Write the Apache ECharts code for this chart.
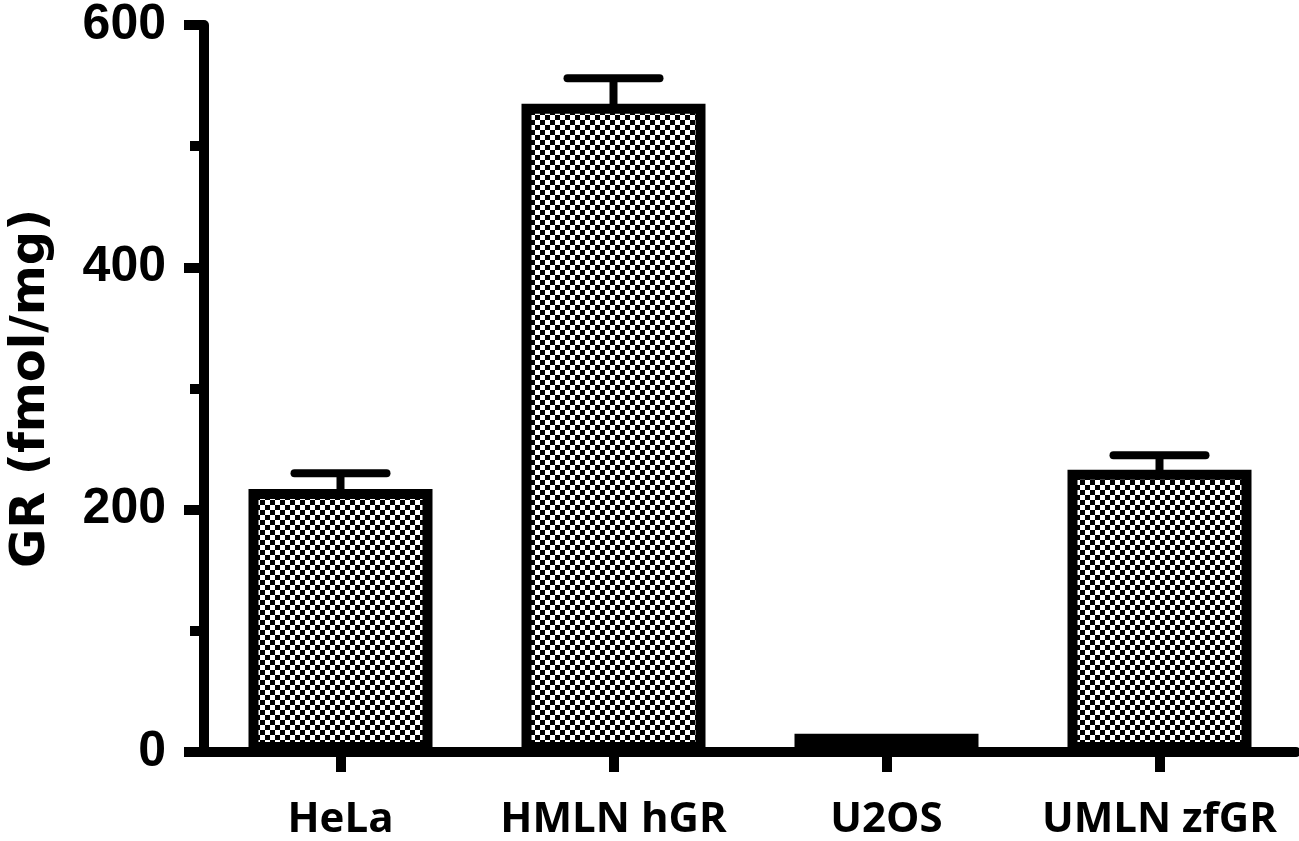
<!DOCTYPE html>
<html>
<head>
<meta charset="utf-8">
<script src="https://cdn.jsdelivr.net/npm/echarts@6/dist/echarts.min.js"></script>
<style>
html,body{margin:0;padding:0;background:#fff;}
#chart{width:1299px;height:841px;}
</style>
</head>
<body>
<div id="chart"></div>
<script>
const categories = ['HeLa', 'HMLN hGR', 'U2OS', 'UMLN zfGR'];
const values = [217, 535, 15, 233];
const errorTops = [230, 556, 15, 245];
const yTicks = [0, 200, 400, 600];

// checkerboard pattern
const pat = document.createElement('canvas');
pat.width = 10; pat.height = 10;
const pc = pat.getContext('2d');
pc.fillStyle = '#fff'; pc.fillRect(0, 0, 10, 10);
pc.fillStyle = '#000';
pc.fillRect(0, 0, 5, 5); pc.fillRect(5, 5, 5, 5);

const chart = echarts.init(document.getElementById('chart'), null, {renderer: 'canvas'});
chart.setOption({
  backgroundColor: '#fff',
  animation: false,
  grid: {left: 203, right: 3, top: 22, bottom: 89, containLabel: false},
  xAxis: {
    type: 'category',
    data: categories,
    axisLine: {lineStyle: {color: '#000', width: 10}},
    axisTick: {show: true, length: 20, lineStyle: {color: '#000', width: 10}, alignWithLabel: true},
    axisLabel: {color: '#000', fontFamily: 'Open Sans', fontWeight: 'bold', fontSize: 42, margin: 47,
      interval: 0, hideOverlap: false}
  },
  yAxis: {
    type: 'value',
    min: 0, max: 600, interval: 200,
    name: 'GR (fmol/mg)',
    nameLocation: 'middle',
    nameGap: 148,
    nameTextStyle: {color: '#000', fontFamily: 'DejaVu Sans', fontWeight: 'bold', fontSize: 48},
    axisLine: {show: true, lineStyle: {color: '#000', width: 10}},
    axisTick: {show: true, length: 20, lineStyle: {color: '#000', width: 10}},
    minorTick: {show: true, splitNumber: 2, length: 14, lineStyle: {color: '#000', width: 10}},
    splitLine: {show: false},
    axisLabel: {color: '#000', fontFamily: 'Liberation Sans', fontWeight: 'bold', fontSize: 50, margin: 38,
      formatter: function (v) { return yTicks.indexOf(v) >= 0 ? String(v) : ''; }}
  },
  series: [
    {
      type: 'bar',
      data: values,
      barWidth: 184,
      itemStyle: {color: {image: pat, repeat: 'repeat'}, borderColor: '#000', borderWidth: 10},
      z: 2
    },
    {
      type: 'custom',
      data: categories.map((c, i) => [i, values[i], errorTops[i]]),
      z: 3,
      renderItem: function (params, api) {
        const i = api.value(0);
        const base = api.coord([i, api.value(1)]);
        const top = api.coord([i, api.value(2)]);
        if (api.value(2) <= api.value(1)) return {type: 'group', children: []};
        const half = 46;
        const style = {stroke: '#000', lineWidth: 8, lineCap: 'round'};
        return {
          type: 'group',
          children: [
            {type: 'line', shape: {x1: base[0], y1: base[1] + 2, x2: top[0], y2: top[1]}, style: {stroke: '#000', lineWidth: 8}},
            {type: 'line', shape: {x1: top[0] - half, y1: top[1], x2: top[0] + half, y2: top[1]}, style: style}
          ]
        };
      }
    }
  ]
});
</script>
</body>
</html>
